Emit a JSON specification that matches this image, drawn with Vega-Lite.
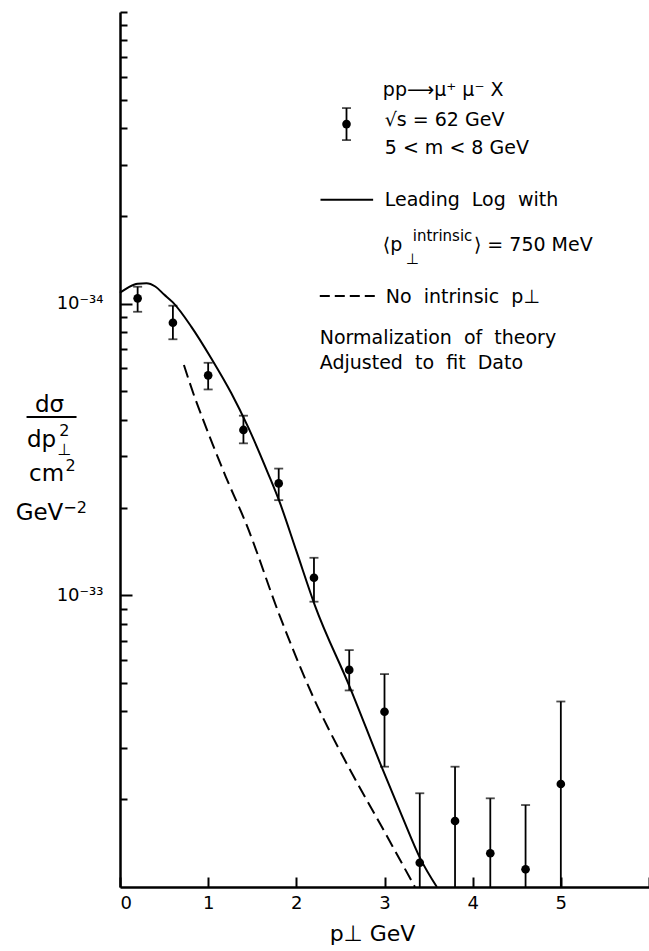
{
  "$schema": "https://vega.github.io/schema/vega-lite/v6.json",
  "width": 529,
  "height": 875,
  "autosize": {"type": "none"},
  "padding": {"left": 120, "top": 12, "right": 0, "bottom": 64},
  "background": "white",
  "config": {"view": {"stroke": null}, "font": "DejaVu Sans"},
  "resolve": {"axis": {"x": "independent", "y": "independent"}},
  "datasets": {
    "points": [
      {"x": 0.2, "y": 10.43, "lo": 9.38, "hi": 11.43},
      {"x": 0.6, "y": 8.6, "lo": 7.55, "hi": 9.84},
      {"x": 1.0, "y": 5.68, "lo": 5.08, "hi": 6.27},
      {"x": 1.4, "y": 3.69, "lo": 3.32, "hi": 4.13},
      {"x": 1.8, "y": 2.42, "lo": 2.12, "hi": 2.72},
      {"x": 2.2, "y": 1.149, "lo": 0.951, "hi": 1.345},
      {"x": 2.6, "y": 0.555, "lo": 0.472, "hi": 0.649},
      {"x": 3.0, "y": 0.399, "lo": 0.2585, "hi": 0.537},
      {"x": 3.4, "y": 0.1211, "lo": 0.1, "hi": 0.2096},
      {"x": 3.8, "y": 0.1684, "lo": 0.1, "hi": 0.2585},
      {"x": 4.2, "y": 0.1305, "lo": 0.1, "hi": 0.2014},
      {"x": 4.6, "y": 0.115, "lo": 0.1, "hi": 0.191},
      {"x": 5.0, "y": 0.2255, "lo": 0.1, "hi": 0.4325}
    ],
    "theory": [
      {"curve": "leading log", "x": 0.0, "y": 10.9},
      {"curve": "leading log", "x": 0.1, "y": 11.4},
      {"curve": "leading log", "x": 0.2, "y": 11.7},
      {"curve": "leading log", "x": 0.3, "y": 11.75},
      {"curve": "leading log", "x": 0.4, "y": 11.45},
      {"curve": "leading log", "x": 0.5, "y": 10.75},
      {"curve": "leading log", "x": 0.6, "y": 10.1},
      {"curve": "leading log", "x": 0.81, "y": 8.33},
      {"curve": "leading log", "x": 1.036, "y": 6.49},
      {"curve": "leading log", "x": 1.263, "y": 4.93},
      {"curve": "leading log", "x": 1.452, "y": 3.78},
      {"curve": "leading log", "x": 1.679, "y": 2.62},
      {"curve": "leading log", "x": 1.81, "y": 2.09},
      {"curve": "leading log", "x": 2.0, "y": 1.42},
      {"curve": "leading log", "x": 2.209, "y": 0.926},
      {"curve": "leading log", "x": 2.611, "y": 0.481},
      {"curve": "leading log", "x": 2.951, "y": 0.2656},
      {"curve": "leading log", "x": 3.2, "y": 0.1747},
      {"curve": "leading log", "x": 3.405, "y": 0.1254},
      {"curve": "leading log", "x": 3.594, "y": 0.1},
      {"curve": "no intrinsic", "x": 0.725, "y": 6.16},
      {"curve": "no intrinsic", "x": 0.85, "y": 4.75},
      {"curve": "no intrinsic", "x": 0.95, "y": 3.95},
      {"curve": "no intrinsic", "x": 1.05, "y": 3.3},
      {"curve": "no intrinsic", "x": 1.2, "y": 2.55},
      {"curve": "no intrinsic", "x": 1.434, "y": 1.75},
      {"curve": "no intrinsic", "x": 1.812, "y": 0.85},
      {"curve": "no intrinsic", "x": 2.19, "y": 0.449},
      {"curve": "no intrinsic", "x": 2.569, "y": 0.2656},
      {"curve": "no intrinsic", "x": 2.947, "y": 0.1654},
      {"curve": "no intrinsic", "x": 3.345, "y": 0.1}
    ],
    "notes": [
      {"x": 2.981, "y": 54.0, "text": "pp⟶μ⁺ μ⁻ X"},
      {"x": 3.003, "y": 42.6, "text": "√s = 62 GeV"},
      {"x": 3.003, "y": 34.2, "text": "5 < m < 8 GeV"},
      {"x": 3.003, "y": 22.7, "text": "Leading\u00a0\u00a0Log\u00a0\u00a0with"},
      {"x": 2.981, "y": 15.88, "text": "⟨p"},
      {"x": 4.014, "y": 15.88, "text": "⟩ = 750 MeV"},
      {"x": 3.015, "y": 10.53, "text": "No\u00a0\u00a0intrinsic\u00a0\u00a0p⊥"},
      {"x": 2.266, "y": 7.62, "text": "Normalization\u00a0\u00a0of\u00a0\u00a0theory"},
      {"x": 2.266, "y": 6.26, "text": "Adjusted\u00a0\u00a0to\u00a0\u00a0fit\u00a0\u00a0Dato"}
    ],
    "smallnotes": [
      {"x": 3.32, "y": 17.05, "text": "intrinsic"},
      {"x": 3.24, "y": 14.2, "text": "⊥"}
    ],
    "ytitle": [
      {"x": -0.799, "y": 4.492, "text": "dσ"},
      {"x": -0.89, "y": 3.408, "text": "dp"},
      {"x": -0.833, "y": 2.605, "text": "cm"},
      {"x": -0.913, "y": 1.915, "text": "GeV"}
    ],
    "ytitlesmall": [
      {"x": -0.63, "y": 3.659, "text": "2"},
      {"x": -0.63, "y": 3.149, "text": "⊥"},
      {"x": -0.56, "y": 2.776, "text": "2"},
      {"x": -0.51, "y": 1.992, "text": "−2"}
    ],
    "ybar": [{"x": -1.06, "x2": -0.493, "y": 4.087}],
    "keypoint": [{"x": 2.569, "y": 41.28, "lo": 36.38, "hi": 46.84}],
    "keylines": [
      {"curve": "leading log", "x": 2.274, "x2": 2.871, "y": 22.7},
      {"curve": "no intrinsic", "x": 2.266, "x2": 2.89, "y": 10.62}
    ]
  },
  "layer": [
    {
      "data": {"name": "theory"},
      "transform": [{"filter": "datum.curve == 'leading log'"}],
      "mark": {"type": "line", "color": "black", "strokeWidth": 2, "interpolate": "monotone"},
      "encoding": {
        "x": {"field": "x", "type": "quantitative", "scale": {"domain": [0, 6], "nice": false, "zero": false},
          "axis": {"orient": "bottom", "values": [0, 1, 2, 3, 4, 5], "format": "d",
            "ticks": false, "tickSize": 0, "domainColor": "black", "domainWidth": 2.5,
            "labelFontSize": 18, "labelColor": "black", "labelPadding": 7, "grid": false,
            "title": "p⊥ GeV", "titleFontSize": 22, "titleFontWeight": "normal", "titleColor": "black",
            "titleX": 252, "titleY": 46, "titleAlign": "center", "titleBaseline": "middle"}},
        "y": {"field": "y", "type": "quantitative", "scale": {"type": "log", "domain": [0.1, 100], "nice": false},
          "axis": {"orient": "left", "values": [1, 10],
            "labelExpr": "datum.value == 10 ? '10⁻³⁴' : '10⁻³³'",
            "ticks": false, "tickSize": 0, "domainColor": "black", "domainWidth": 2.5,
            "labelFontSize": 18, "labelColor": "black", "labelPadding": 17, "grid": false, "title": null}}
      }
    },
    {
      "data": {"name": "theory"},
      "transform": [{"filter": "datum.curve == 'no intrinsic'"}],
      "mark": {"type": "line", "color": "black", "strokeWidth": 2, "strokeDash": [13, 6], "interpolate": "monotone"},
      "encoding": {
        "x": {"field": "x", "type": "quantitative", "scale": {"domain": [0, 6], "nice": false, "zero": false},
          "axis": {"orient": "bottom", "values": [0, 1, 2, 3, 4, 5, 6],
            "ticks": false, "domain": false, "labels": false,
            "grid": true, "gridColor": "black", "gridWidth": 2, "gridDash": [10, 2000], "gridDashOffset": 1145, "gridOpacity": 1, "title": null}},
        "y": {"field": "y", "type": "quantitative", "scale": {"type": "log", "domain": [0.1, 100], "nice": false},
          "axis": {"orient": "right", "offset": -529, "values": [0.2, 0.3, 0.4, 0.5, 0.6, 0.7, 0.8, 0.9, 2, 3, 4, 5, 6, 7, 8, 9, 20, 30, 40, 50, 60, 70, 80, 90, 100],
            "tickSize": 7, "tickWidth": 2, "tickColor": "black",
            "domain": false, "labels": false, "grid": false, "title": null}}
      }
    },
    {
      "data": {"name": "points"},
      "mark": {"type": "rule", "color": "black", "strokeWidth": 1.8},
      "encoding": {
        "x": {"field": "x", "type": "quantitative", "scale": {"domain": [0, 6], "nice": false, "zero": false}, "axis": null},
        "y": {"field": "lo", "type": "quantitative", "scale": {"type": "log", "domain": [0.1, 100], "nice": false},
          "axis": {"orient": "right", "offset": -529, "values": [1, 10],
            "tickSize": 12, "tickWidth": 2, "tickColor": "black",
            "domain": false, "labels": false, "grid": false, "title": null}},
        "y2": {"field": "hi"}
      }
    },
    {
      "data": {"name": "points"},
      "mark": {"type": "tick", "color": "black", "orient": "horizontal", "size": 9, "thickness": 1.8},
      "encoding": {
        "x": {"field": "x", "type": "quantitative", "scale": {"domain": [0, 6], "nice": false, "zero": false}, "axis": null},
        "y": {"field": "hi", "type": "quantitative", "scale": {"type": "log", "domain": [0.1, 100], "nice": false}, "axis": null}
      }
    },
    {
      "data": {"name": "points"},
      "transform": [{"filter": "datum.lo > 0.11"}],
      "mark": {"type": "tick", "color": "black", "orient": "horizontal", "size": 9, "thickness": 1.8},
      "encoding": {
        "x": {"field": "x", "type": "quantitative", "scale": {"domain": [0, 6], "nice": false, "zero": false}, "axis": null},
        "y": {"field": "lo", "type": "quantitative", "scale": {"type": "log", "domain": [0.1, 100], "nice": false}, "axis": null}
      }
    },
    {
      "data": {"name": "points"},
      "mark": {"type": "circle", "color": "black", "opacity": 1, "size": 75},
      "encoding": {
        "x": {"field": "x", "type": "quantitative", "scale": {"domain": [0, 6], "nice": false, "zero": false}, "axis": null},
        "y": {"field": "y", "type": "quantitative", "scale": {"type": "log", "domain": [0.1, 100], "nice": false}, "axis": null}
      }
    },
    {
      "data": {"name": "keypoint"},
      "mark": {"type": "rule", "color": "black", "strokeWidth": 1.8},
      "encoding": {
        "x": {"field": "x", "type": "quantitative", "scale": {"domain": [0, 6], "nice": false, "zero": false}, "axis": null},
        "y": {"field": "lo", "type": "quantitative", "scale": {"type": "log", "domain": [0.1, 100], "nice": false}, "axis": null},
        "y2": {"field": "hi"}
      }
    },
    {
      "data": {"name": "keypoint"},
      "mark": {"type": "tick", "color": "black", "orient": "horizontal", "size": 9, "thickness": 1.8},
      "encoding": {
        "x": {"field": "x", "type": "quantitative", "scale": {"domain": [0, 6], "nice": false, "zero": false}, "axis": null},
        "y": {"field": "hi", "type": "quantitative", "scale": {"type": "log", "domain": [0.1, 100], "nice": false}, "axis": null}
      }
    },
    {
      "data": {"name": "keypoint"},
      "mark": {"type": "tick", "color": "black", "orient": "horizontal", "size": 9, "thickness": 1.8},
      "encoding": {
        "x": {"field": "x", "type": "quantitative", "scale": {"domain": [0, 6], "nice": false, "zero": false}, "axis": null},
        "y": {"field": "lo", "type": "quantitative", "scale": {"type": "log", "domain": [0.1, 100], "nice": false}, "axis": null}
      }
    },
    {
      "data": {"name": "keypoint"},
      "mark": {"type": "circle", "color": "black", "opacity": 1, "size": 75},
      "encoding": {
        "x": {"field": "x", "type": "quantitative", "scale": {"domain": [0, 6], "nice": false, "zero": false}, "axis": null},
        "y": {"field": "y", "type": "quantitative", "scale": {"type": "log", "domain": [0.1, 100], "nice": false}, "axis": null}
      }
    },
    {
      "data": {"name": "keylines"},
      "transform": [{"filter": "datum.curve == 'leading log'"}],
      "mark": {"type": "rule", "color": "black", "strokeWidth": 2},
      "encoding": {
        "x": {"field": "x", "type": "quantitative", "scale": {"domain": [0, 6], "nice": false, "zero": false}, "axis": null},
        "x2": {"field": "x2"},
        "y": {"field": "y", "type": "quantitative", "scale": {"type": "log", "domain": [0.1, 100], "nice": false}, "axis": null}
      }
    },
    {
      "data": {"name": "keylines"},
      "transform": [{"filter": "datum.curve == 'no intrinsic'"}],
      "mark": {"type": "rule", "color": "black", "strokeWidth": 2, "strokeDash": [10, 5]},
      "encoding": {
        "x": {"field": "x", "type": "quantitative", "scale": {"domain": [0, 6], "nice": false, "zero": false}, "axis": null},
        "x2": {"field": "x2"},
        "y": {"field": "y", "type": "quantitative", "scale": {"type": "log", "domain": [0.1, 100], "nice": false}, "axis": null}
      }
    },
    {
      "data": {"name": "ybar"},
      "mark": {"type": "rule", "color": "black", "strokeWidth": 2},
      "encoding": {
        "x": {"field": "x", "type": "quantitative", "scale": {"domain": [0, 6], "nice": false, "zero": false}, "axis": null},
        "x2": {"field": "x2"},
        "y": {"field": "y", "type": "quantitative", "scale": {"type": "log", "domain": [0.1, 100], "nice": false}, "axis": null}
      }
    },
    {
      "data": {"name": "notes"},
      "mark": {"type": "text", "align": "left", "baseline": "middle", "fontSize": 19, "color": "black"},
      "encoding": {
        "x": {"field": "x", "type": "quantitative", "scale": {"domain": [0, 6], "nice": false, "zero": false}, "axis": null},
        "y": {"field": "y", "type": "quantitative", "scale": {"type": "log", "domain": [0.1, 100], "nice": false}, "axis": null},
        "text": {"field": "text"}
      }
    },
    {
      "data": {"name": "smallnotes"},
      "mark": {"type": "text", "align": "left", "baseline": "middle", "fontSize": 15, "color": "black"},
      "encoding": {
        "x": {"field": "x", "type": "quantitative", "scale": {"domain": [0, 6], "nice": false, "zero": false}, "axis": null},
        "y": {"field": "y", "type": "quantitative", "scale": {"type": "log", "domain": [0.1, 100], "nice": false}, "axis": null},
        "text": {"field": "text"}
      }
    },
    {
      "data": {"name": "ytitle"},
      "mark": {"type": "text", "align": "center", "baseline": "middle", "fontSize": 23, "color": "black"},
      "encoding": {
        "x": {"field": "x", "type": "quantitative", "scale": {"domain": [0, 6], "nice": false, "zero": false}, "axis": null},
        "y": {"field": "y", "type": "quantitative", "scale": {"type": "log", "domain": [0.1, 100], "nice": false}, "axis": null},
        "text": {"field": "text"}
      }
    },
    {
      "data": {"name": "ytitlesmall"},
      "mark": {"type": "text", "align": "center", "baseline": "middle", "fontSize": 16, "color": "black"},
      "encoding": {
        "x": {"field": "x", "type": "quantitative", "scale": {"domain": [0, 6], "nice": false, "zero": false}, "axis": null},
        "y": {"field": "y", "type": "quantitative", "scale": {"type": "log", "domain": [0.1, 100], "nice": false}, "axis": null},
        "text": {"field": "text"}
      }
    }
  ]
}
